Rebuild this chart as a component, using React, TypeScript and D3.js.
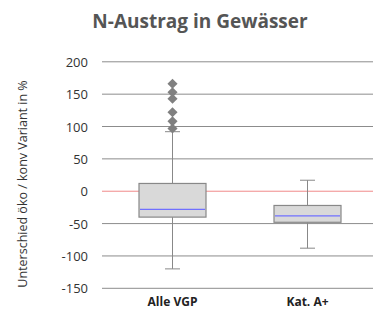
import React from "react";
import * as d3 from "d3";

const categories = ["Alle VGP", "Kat. A+"];
const q1 = [-40, -48];
const medians = [-28, -38];
const q3 = [12, -22];
const whiskerLow = [-120, -88];
const whiskerHigh = [92, 17];
const outliersAll = [166, 153, 143, 122, 108, 97];
const yTicks = [200, 150, 100, 50, 0, -50, -100, -150];

const W = 373, H = 309;

export default function App() {
  const y = d3.scaleLinear().domain([-150, 200]).range([288.3, 61.8]);
  const x = d3.scaleBand().domain(categories).range([105, 375]).paddingInner(0.5).paddingOuter(0.25);
  const boxW = 67;
  const diamond = d3.symbol().type(d3.symbolDiamond2 ?? d3.symbolDiamond).size(65)();
  const capW = 15;
  const font = "'Open Sans', 'Liberation Sans', sans-serif";
  return (
    <svg width={W} height={H} style={{ position: "absolute", left: 0, top: 0, background: "#fff" }}>
      <text x={200} y={28} textAnchor="middle" fontFamily={font} fontWeight="bold" fontSize={19} fill="#555">N-Austrag in Gewässer</text>
      {yTicks.map((t) => (
        <g key={t}>
          <line x1={102} x2={W} y1={y(t)} y2={y(t)} stroke={t === 0 ? "#f08a8a" : "#8c8c8c"} strokeWidth={1} />
          <text x={88} y={y(t) + 5} textAnchor="end" fontFamily={font} fontSize={13} fill="#333">{t}</text>
        </g>
      ))}
      <text transform={`translate(27,184) rotate(-90)`} textAnchor="middle" fontFamily={font} fontSize={12.5} fill="#333">Unterschied öko / konv Variant in %</text>
      {categories.map((c, i) => {
        const cx = (x(c) as number) + x.bandwidth() / 2;
        return (
          <g key={c}>
            <line x1={cx} x2={cx} y1={y(whiskerHigh[i])} y2={y(q3[i])} stroke="#888" />
            <line x1={cx} x2={cx} y1={y(q1[i])} y2={y(whiskerLow[i])} stroke="#888" />
            <line x1={cx - capW / 2} x2={cx + capW / 2} y1={y(whiskerHigh[i])} y2={y(whiskerHigh[i])} stroke="#888" />
            <line x1={cx - capW / 2} x2={cx + capW / 2} y1={y(whiskerLow[i])} y2={y(whiskerLow[i])} stroke="#888" />
            <rect x={cx - boxW / 2} y={y(q3[i])} width={boxW} height={y(q1[i]) - y(q3[i])} fill="#d9d9d9" stroke="#888" strokeWidth={1.2} />
            <line x1={cx - boxW / 2 + 1} x2={cx + boxW / 2 - 1} y1={y(medians[i])} y2={y(medians[i])} stroke="#7070ff" strokeWidth={1.2} />
            <text x={cx} y={306} textAnchor="middle" fontFamily={font} fontWeight="bold" fontSize={12} fill="#222">{c}</text>
          </g>
        );
      })}
      {outliersAll.map((v, j) => {
        const cx = (x(categories[0]) as number) + x.bandwidth() / 2;
        return <path key={j} d={diamond as string} transform={`translate(${cx},${y(v)})`} fill="#808080" />;
      })}
    </svg>
  );
}
